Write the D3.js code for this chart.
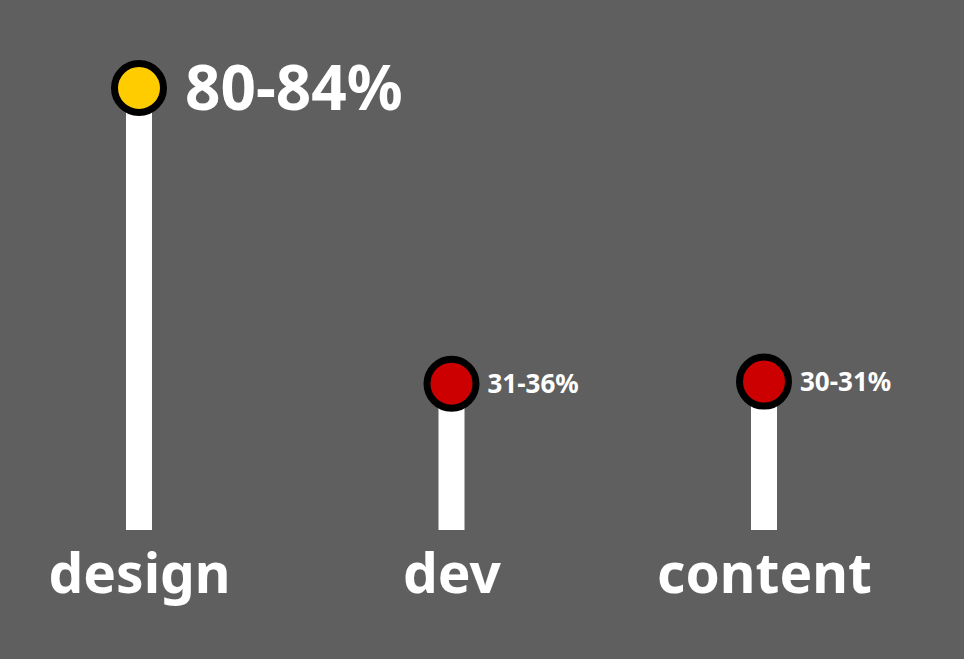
<!DOCTYPE html>
<html>
<head>
<meta charset="utf-8">
<script src="https://cdn.jsdelivr.net/npm/d3@7"></script>
<style>
  html, body { margin: 0; padding: 0; background: #5f5f5f; }
  svg { display: block; }
</style>
</head>
<body>
<svg id="chart" width="964" height="659"></svg>
<script>
// categories and what is printed next to each marker
const categories = ["design", "dev", "content"];
const rangeLabels = ["80-84%", "31-36%", "30-31%"];
// plotted height of each stem
const values = [84, 27.8, 28.2];
const markerColors = ["#ffcc00", "#cc0000", "#cc0000"];
const labelSizes = [62, 26, 26];

const svg = d3.select("#chart");
const width = 964, height = 659;

// x 比例尺
const x = d3.scalePoint().domain(categories).range([139, 764]);
// y 比例尺
const y = d3.scaleLinear().domain([0, 84]).range([530, 88]);

const rows = categories.map((c, i) => ({
  cat: c, label: rangeLabels[i], value: values[i], color: markerColors[i], size: labelSizes[i]
}));

svg.append("rect").attr("width", width).attr("height", height).attr("fill", "#5f5f5f");

const g = svg.append("g");

// stems
g.selectAll("rect.stem").data(rows).enter().append("rect")
  .attr("class", "stem")
  .attr("x", d => x(d.cat) - 13)
  .attr("width", 26)
  .attr("y", d => y(d.value))
  .attr("height", d => y(0) - y(d.value))
  .attr("fill", "#ffffff");

// markers
g.selectAll("circle").data(rows).enter().append("circle")
  .attr("cx", d => x(d.cat))
  .attr("cy", d => y(d.value))
  .attr("r", 24.5)
  .attr("fill", d => d.color)
  .attr("stroke", "#000")
  .attr("stroke-width", 7);

// value labels
g.selectAll("text.val").data(rows).enter().append("text")
  .attr("class", "val")
  .attr("x", d => x(d.cat) + (d.size > 30 ? 46 : 36))
  .attr("y", d => y(d.value))
  .attr("dy", "0.36em")
  .attr("fill", "#fff")
  .style("font-family", "'Noto Sans', sans-serif")
  .style("font-weight", 700)
  .style("font-size", d => d.size + "px")
  .text(d => d.label);

// category labels (bottom axis)
const axis = g.append("g")
  .attr("transform", "translate(0,593)")
  .call(d3.axisBottom(x).tickSize(0).tickPadding(0));
axis.select(".domain").remove();
axis.selectAll("text")
  .attr("y", 0).attr("dy", 0)
  .attr("fill", "#fff")
  .style("font-family", "'Noto Sans', sans-serif")
  .style("font-weight", 700)
  .style("font-size", "55px");
</script>
</body>
</html>
